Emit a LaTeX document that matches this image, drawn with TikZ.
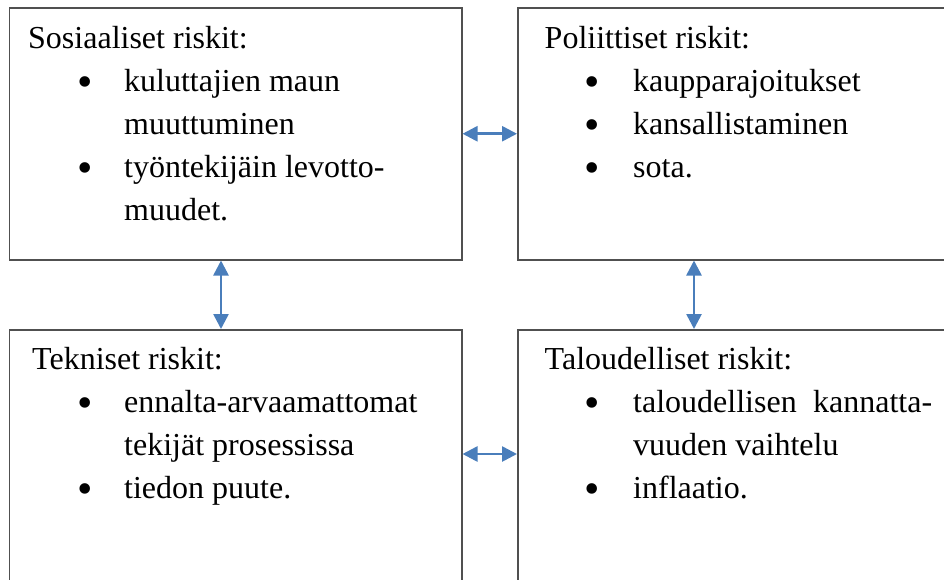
\documentclass[tikz,border=0pt]{standalone}
\usepackage{fontspec}
\setmainfont{Liberation Serif}
\usetikzlibrary{arrows.meta}
\definecolor{boxline}{RGB}{80,80,80}
\definecolor{arrblue}{RGB}{74,126,187}
\begin{document}
\begin{tikzpicture}[x=1pt,y=-1pt,
  box/.style={draw=boxline, line width=1.5pt, rectangle, inner sep=0pt, anchor=north west},
  txt/.style={anchor=base west, inner sep=0pt, font=\fontsize{32}{40}\selectfont},
  bul/.style={anchor=base, inner sep=0pt, yshift=-5pt, font=\fontsize{44}{44}\selectfont},
  arr/.style={draw=arrblue, line width=2.6pt, {Triangle[length=15pt,width=15pt]}-{Triangle[length=15pt,width=15pt]}}]
\useasboundingbox (0,0) rectangle (944,579);
\clip (0,0) rectangle (944,579);
% boxes
\node[box, minimum width=452.5pt, minimum height=252pt] (tl) at (8.5,7) {};
\node[box, minimum width=453pt, minimum height=252pt] (tr) at (517,7) {};
\node[box, minimum width=452.5pt, minimum height=291pt] (bl) at (8.5,329) {};
\node[box, minimum width=453pt, minimum height=291pt] (br) at (517,329) {};
% top-left text
\node[txt] (tlt) at (28,48) {Sosiaaliset riskit:};
\node[bul] (tlb1) at (85,91) {•};
\node[txt] (tl1) at (124,91) {kuluttajien maun};
\node[txt] (tl2) at (124,134) {muuttuminen};
\node[bul] (tlb2) at (85,177) {•};
\node[txt] (tl3) at (124,177) {työntekijäin levotto-};
\node[txt] (tl4) at (124,220) {muudet.};
% top-right text
\node[txt] (trt) at (544.5,48) {Poliittiset riskit:};
\node[bul] (trb1) at (592,91) {•};
\node[txt] (tr1) at (633,91) {kaupparajoitukset};
\node[bul] (trb2) at (592,134) {•};
\node[txt] (tr2) at (633,134) {kansallistaminen};
\node[bul] (trb3) at (592,177) {•};
\node[txt] (tr3) at (633,177) {sota.};
% bottom-left text
\node[txt] (blt) at (32,369) {Tekniset riskit:};
\node[bul] (blb1) at (85,412) {•};
\node[txt] (bl1) at (124,412) {ennalta-arvaamattomat};
\node[txt] (bl2) at (124,455) {tekijät prosessissa};
\node[bul] (blb2) at (85,498) {•};
\node[txt] (bl3) at (124,498) {tiedon puute.};
% bottom-right text
\node[txt] (brt) at (544.5,369) {Taloudelliset riskit:};
\node[bul] (brb1) at (592,412) {•};
\node[txt] (br1) at (633,412) {\hbox to 299pt{taloudellisen\hfill kannatta-}};
\node[txt] (br2) at (633,455) {vuuden vaihtelu};
\node[bul] (brb2) at (592,498) {•};
\node[txt] (br3) at (633,498) {inflaatio.};
% arrows
\draw[arr] (tl.east) -- (tr.west);
\draw[arr] ([yshift=-125pt]bl.north east) -- ([yshift=-125pt]br.north west);
\draw[arr] ([xshift=212.5pt]tl.south west) -- ([xshift=212.5pt]bl.north west);
\draw[arr] ([xshift=177pt]tr.south west) -- ([xshift=177pt]br.north west);
\end{tikzpicture}
\end{document}
